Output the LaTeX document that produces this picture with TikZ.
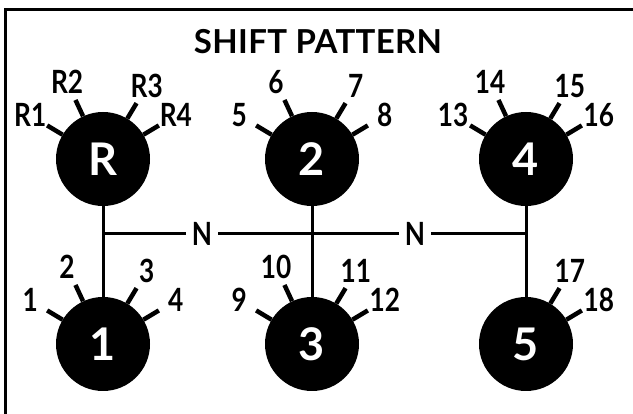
\documentclass[tikz,border=0pt]{standalone}
\usepackage{fontspec}
\setmainfont{Lato}
\usetikzlibrary{calc}

\begin{document}
\begin{tikzpicture}[x=1pt, y=-1pt, line cap=butt, line join=miter,
    gear/.style={circle, fill=black, minimum size=94pt, inner sep=0pt,
        text=white, font=\fontsize{45}{45}\selectfont\bfseries},
    spoke/.style={line width=4.5pt},
    rod/.style={line width=3pt},
    num/.style={font=\fontsize{32}{32}\selectfont\bfseries\addfontfeatures{FakeStretch=0.82},
        inner sep=1pt},
    neutral/.style={num, inner sep=6pt},
    title/.style={font=\fontsize{33}{33}\selectfont\bfseries\addfontfeatures{LetterSpace=1}}]
            \useasboundingbox (0,0) rectangle (633,414);

            % frame
            \draw[line width=3pt] (5,414) -- (5,10) -- (633,10);
            \node[title] (title) at (318,42) {SHIFT PATTERN};

            % gear positions
            \node[gear] (R)  at (103,159) {R};
            \node[gear] (g2) at (312,159) {2};
            \node[gear] (g4) at (526,159) {4};
            \node[gear] (g1) at (103,344) {1};
            \node[gear] (g3) at (312,344) {3};
            \node[gear] (g5) at (526,344) {5};

            \node[neutral] (N1) at (202,234) {N};
            \node[neutral] (N2) at (415,234) {N};

            % shift rods
            \draw[rod] (R) -- (g1);
            \draw[rod] (g2) -- (g3);
            \draw[rod] (g4) -- (g5);
            \draw[rod] (R.south |- N1) -- (N1);
            \draw[rod] (N1) -- (N2);
            \draw[rod] (N2) -- (g4.south |- N2);

            % speed marks
            \foreach \g/\a/\t in {R/149/R1, R/115/R2, R/59/R3, R/31/R4,
                                  g2/149/5, g2/115/6, g2/59/7, g2/31/8,
                                  g4/149/13, g4/115/14, g4/59/15, g4/31/16,
                                  g1/149/1, g1/115/2, g1/59/3, g1/31/4,
                                  g3/149/9, g3/115/10, g3/59/11, g3/31/12,
                                  g5/59/17, g5/31/18}
            {
                \draw[spoke] (\g.\a) -- ($(\g.center)!1.38!(\g.\a)$);
                \node[num] at ($(\g.center)!1.8!(\g.\a)$) {\t};
            }

        \end{tikzpicture}
\end{document}
